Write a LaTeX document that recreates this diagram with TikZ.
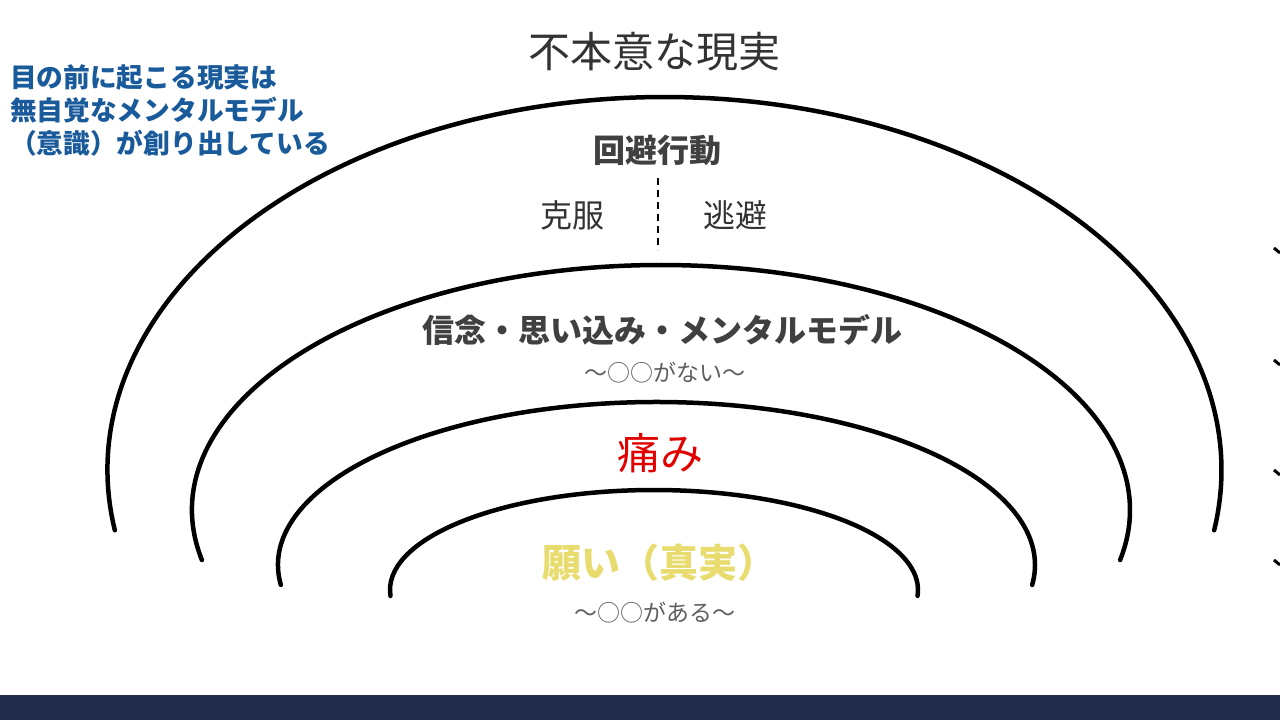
\documentclass[tikz,border=0pt]{standalone}
\usepackage{xcolor}
\usepackage{fontspec}
\setmainfont{Noto Sans CJK JP}

\definecolor{titlegray}{RGB}{51,51,51}
\definecolor{headgray}{RGB}{64,64,64}
\definecolor{notegray}{RGB}{95,95,95}
\definecolor{notered}{RGB}{225,0,0}
\definecolor{wishyellow}{RGB}{232,220,110}
\definecolor{leadblue}{RGB}{25,90,155}
\definecolor{barnavy}{RGB}{34,42,74}

\begin{document}
\begin{tikzpicture}[x=1pt,y=1pt,
		ring/.style={line width=4.5pt, line cap=round},
		plain/.style={inner sep=0pt, text=titlegray},
		heavy/.style={inner sep=0pt, text=headgray, font=\bfseries}]
				% frame and bottom bar
				\useasboundingbox (0,0) rectangle (1280,720);
				\fill[white] (0,0) rectangle (1280,720);
				\fill[barnavy] (0,0) rectangle (1280,25);
				
				% the four rings
				\draw[ring] (664.5,250) ++(189.3:557 and 373) arc[start angle=189.3, end angle=-9.3, x radius=557, y radius=373];
				\draw[ring] (661,210) ++(191.8:469 and 245) arc[start angle=191.8, end angle=-11.8, x radius=469, y radius=245];
				\draw[ring] (656.5,155) ++(187:378.5 and 163) arc[start angle=187, end angle=-7, x radius=378.5, y radius=163];
				\draw[ring] (654,130) ++(183.4:264 and 100) arc[start angle=183.4, end angle=-3.4, x radius=264, y radius=100];
				
				% cut off marks on the right edge
				\foreach \y in {472,360,250,160}
					\draw[line width=3pt] (1274,\y) -- (1280,\y-5);
				
				% texts
				\node[plain, font=\fontsize{42}{48}\selectfont] (title) at (654,668) {不本意な現実};
				\node[inner sep=0pt, anchor=north west, align=left, text=leadblue,
					font=\bfseries\fontsize{26.7}{33}\selectfont] (lead) at (10,656)
					{目の前に起こる現実は\\無自覚なメンタルモデル\\（意識）が創り出している};
				
				\node[heavy, font=\bfseries\fontsize{32}{36}\selectfont] (avoid) at (657,570) {回避行動};
				\node[plain, font=\fontsize{32}{36}\selectfont] (overcome) at (572,505) {克服};
				\node[plain, font=\fontsize{32}{36}\selectfont] (escape) at (735,505) {逃避};
				\coordinate (splittop) at (658,542);
				\coordinate (splitbot) at (658,470);
				\draw[line width=2pt, dash pattern=on 7pt off 5pt] (splittop) -- (splitbot);
				
				\node[heavy, font=\bfseries\fontsize{32}{36}\selectfont] (belief) at (662,390) {信念・思い込み・メンタルモデル};
				\node[plain, text=notegray, font=\fontsize{23}{26}\selectfont] (lack) at (665,347) {〜○○がない〜};
				
				\node[plain, text=notered, font=\fontsize{43}{48}\selectfont] (pain) at (660,267) {痛み};
				
				\node[plain, text=wishyellow, font=\bfseries\fontsize{39}{44}\selectfont] (wish) at (659,157) {願い（真実）};
				\node[plain, text=notegray, font=\fontsize{23}{26}\selectfont] (have) at (655,107) {〜○○がある〜};
				
			\end{tikzpicture}
\end{document}
